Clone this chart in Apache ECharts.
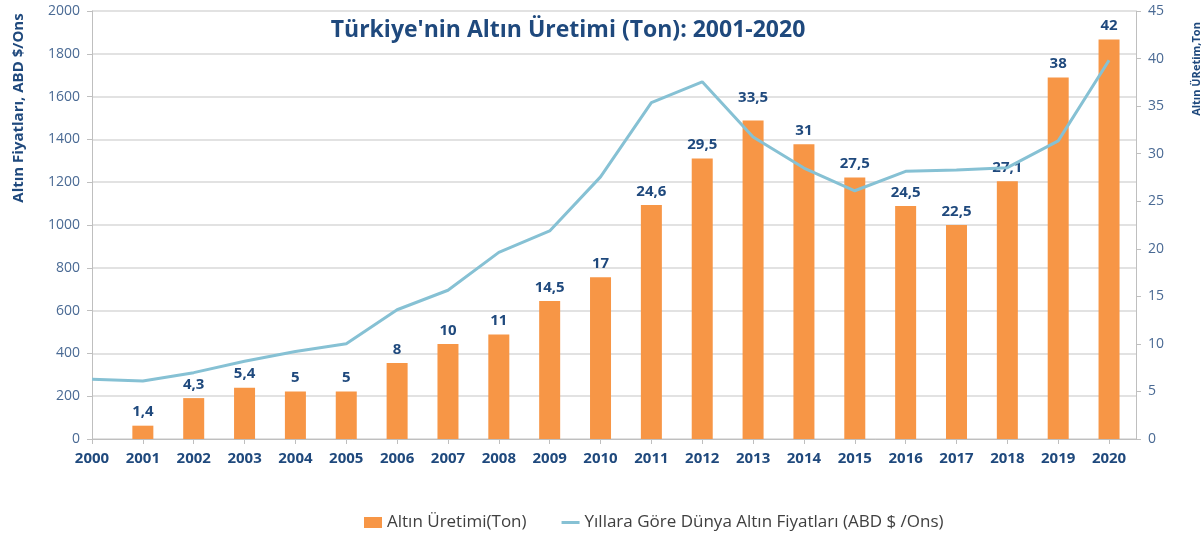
<!DOCTYPE html>
<html>
<head>
<meta charset="utf-8">
<script src="https://cdn.jsdelivr.net/npm/echarts@6/dist/echarts.min.js"></script>
<style>
  html, body { margin: 0; padding: 0; background: #fff; }
  #chart { width: 1203px; height: 534px; }
</style>
</head>
<body>
<div id="chart"></div>
<script>
// veri
const years = [2000, 2001, 2002, 2003, 2004, 2005, 2006, 2007, 2008, 2009, 2010,
               2011, 2012, 2013, 2014, 2015, 2016, 2017, 2018, 2019, 2020];
const productionYears = years.slice(1);
const production = [1.4, 4.3, 5.4, 5, 5, 8, 10, 11, 14.5, 17,
                    24.6, 29.5, 33.5, 31, 27.5, 24.5, 22.5, 27.1, 38, 42];
const goldPrice = [279, 271, 310, 363, 409, 445, 604, 695, 872, 972, 1225,
                   1572, 1669, 1411, 1266, 1160, 1251, 1257, 1268, 1393, 1770];

const darkBlue = "#1f497d";
const tickBlue = "#4a6a94";
const font = "'Open Sans', 'Noto Sans', sans-serif";

const chart = echarts.init(document.getElementById("chart"));

const option = {
    animation: false,
    textStyle: { fontFamily: font },
    title: {
        text: "Türkiye'nin Altın Üretimi (Ton): 2001-2020",
        left: 563,
        top: 14,
        textAlign: "center",
        textStyle: { color: darkBlue, fontSize: 23, fontWeight: "bold", fontFamily: font },
    },
    grid: { left: 92, right: 67, top: 11, bottom: 95 },
    legend: {
        left: 359,
        top: 509,
        itemGap: 35,
        itemWidth: 18,
        itemHeight: 11,
        textStyle: { color: "#404040", fontSize: 17, fontFamily: font },
        data: [
            { name: "Altın Üretimi(Ton)", icon: "rect" },
            { name: "Yıllara Göre Dünya Altın Fiyatları (ABD $ /Ons)", icon: "path://M0,0H18V3H0Z" },
        ],
    },
    graphic: [
        {
            type: "text",
            x: 11,
            y: 108,
            rotation: Math.PI / 2,
            style: {
                text: "Altın Fiyatları, ABD $/Ons",
                fill: darkBlue,
                font: "bold 15px " + font,
                align: "center",
                verticalAlign: "top",
            },
        },
        {
            type: "text",
            x: 1191,
            y: 69,
            rotation: Math.PI / 2,
            style: {
                text: "Altın ÜRetim,Ton",
                fill: darkBlue,
                font: "bold 11px " + font,
                align: "center",
                verticalAlign: "top",
            },
        },
    ],
    xAxis: {
        type: "value",
        min: 2000,
        max: 2020.53,
        interval: 1,
        splitLine: { show: false },
        axisLine: { lineStyle: { color: "#bfbfbf" } },
        axisTick: { show: true, length: 5, lineStyle: { color: "#bfbfbf" } },
        axisLabel: {
            margin: 12,
            color: darkBlue,
            fontSize: 15,
            fontWeight: "bold",
            showMaxLabel: false,
            formatter: (v) => (Number.isInteger(v) ? String(v) : ""),
        },
    },
    yAxis: [
        {
            type: "value",
            min: 0,
            max: 2000,
            interval: 200,
            axisLine: { show: true, lineStyle: { color: "#bfbfbf" } },
            axisTick: { show: true, length: 5, lineStyle: { color: "#bfbfbf" } },
            axisLabel: { color: tickBlue, fontSize: 14, margin: 12, formatter: (v) => String(v) },
            splitLine: { lineStyle: { color: "#d9d9d9", width: 1.5 } },
        },
        {
            type: "value",
            min: 0,
            max: 45,
            interval: 5,
            position: "right",
            axisLine: { show: true, lineStyle: { color: "#bfbfbf" } },
            axisTick: { show: true, length: 5, lineStyle: { color: "#bfbfbf" } },
            axisLabel: { color: tickBlue, fontSize: 14, margin: 12 },
            splitLine: { show: false },
        },
    ],
    series: [
        {
            name: "Altın Üretimi(Ton)",
            type: "bar",
            yAxisIndex: 1,
            barWidth: 21,
            // 2013 etiketi çizginin üstünde, biraz yukarıda
            data: productionYears.map((y, i) =>
                y === 2013
                    ? { value: [y, production[i]], label: { distance: 15 } }
                    : [y, production[i]]
            ),
            itemStyle: { color: "#f79646" },
            label: {
                show: true,
                position: "top",
                distance: 6,
                color: darkBlue,
                fontSize: 15,
                fontWeight: "bold",
                formatter: (p) => String(p.value[1]).replace(".", ","),
            },
        },
        {
            name: "Yıllara Göre Dünya Altın Fiyatları (ABD $ /Ons)",
            type: "line",
            yAxisIndex: 0,
            symbol: "none",
            data: years.map((y, i) => [y, goldPrice[i]]),
            lineStyle: { color: "#86c1d4", width: 3 },
            itemStyle: { color: "#86c1d4" },
        },
    ],
};

chart.setOption(option);
</script>
</body>
</html>
